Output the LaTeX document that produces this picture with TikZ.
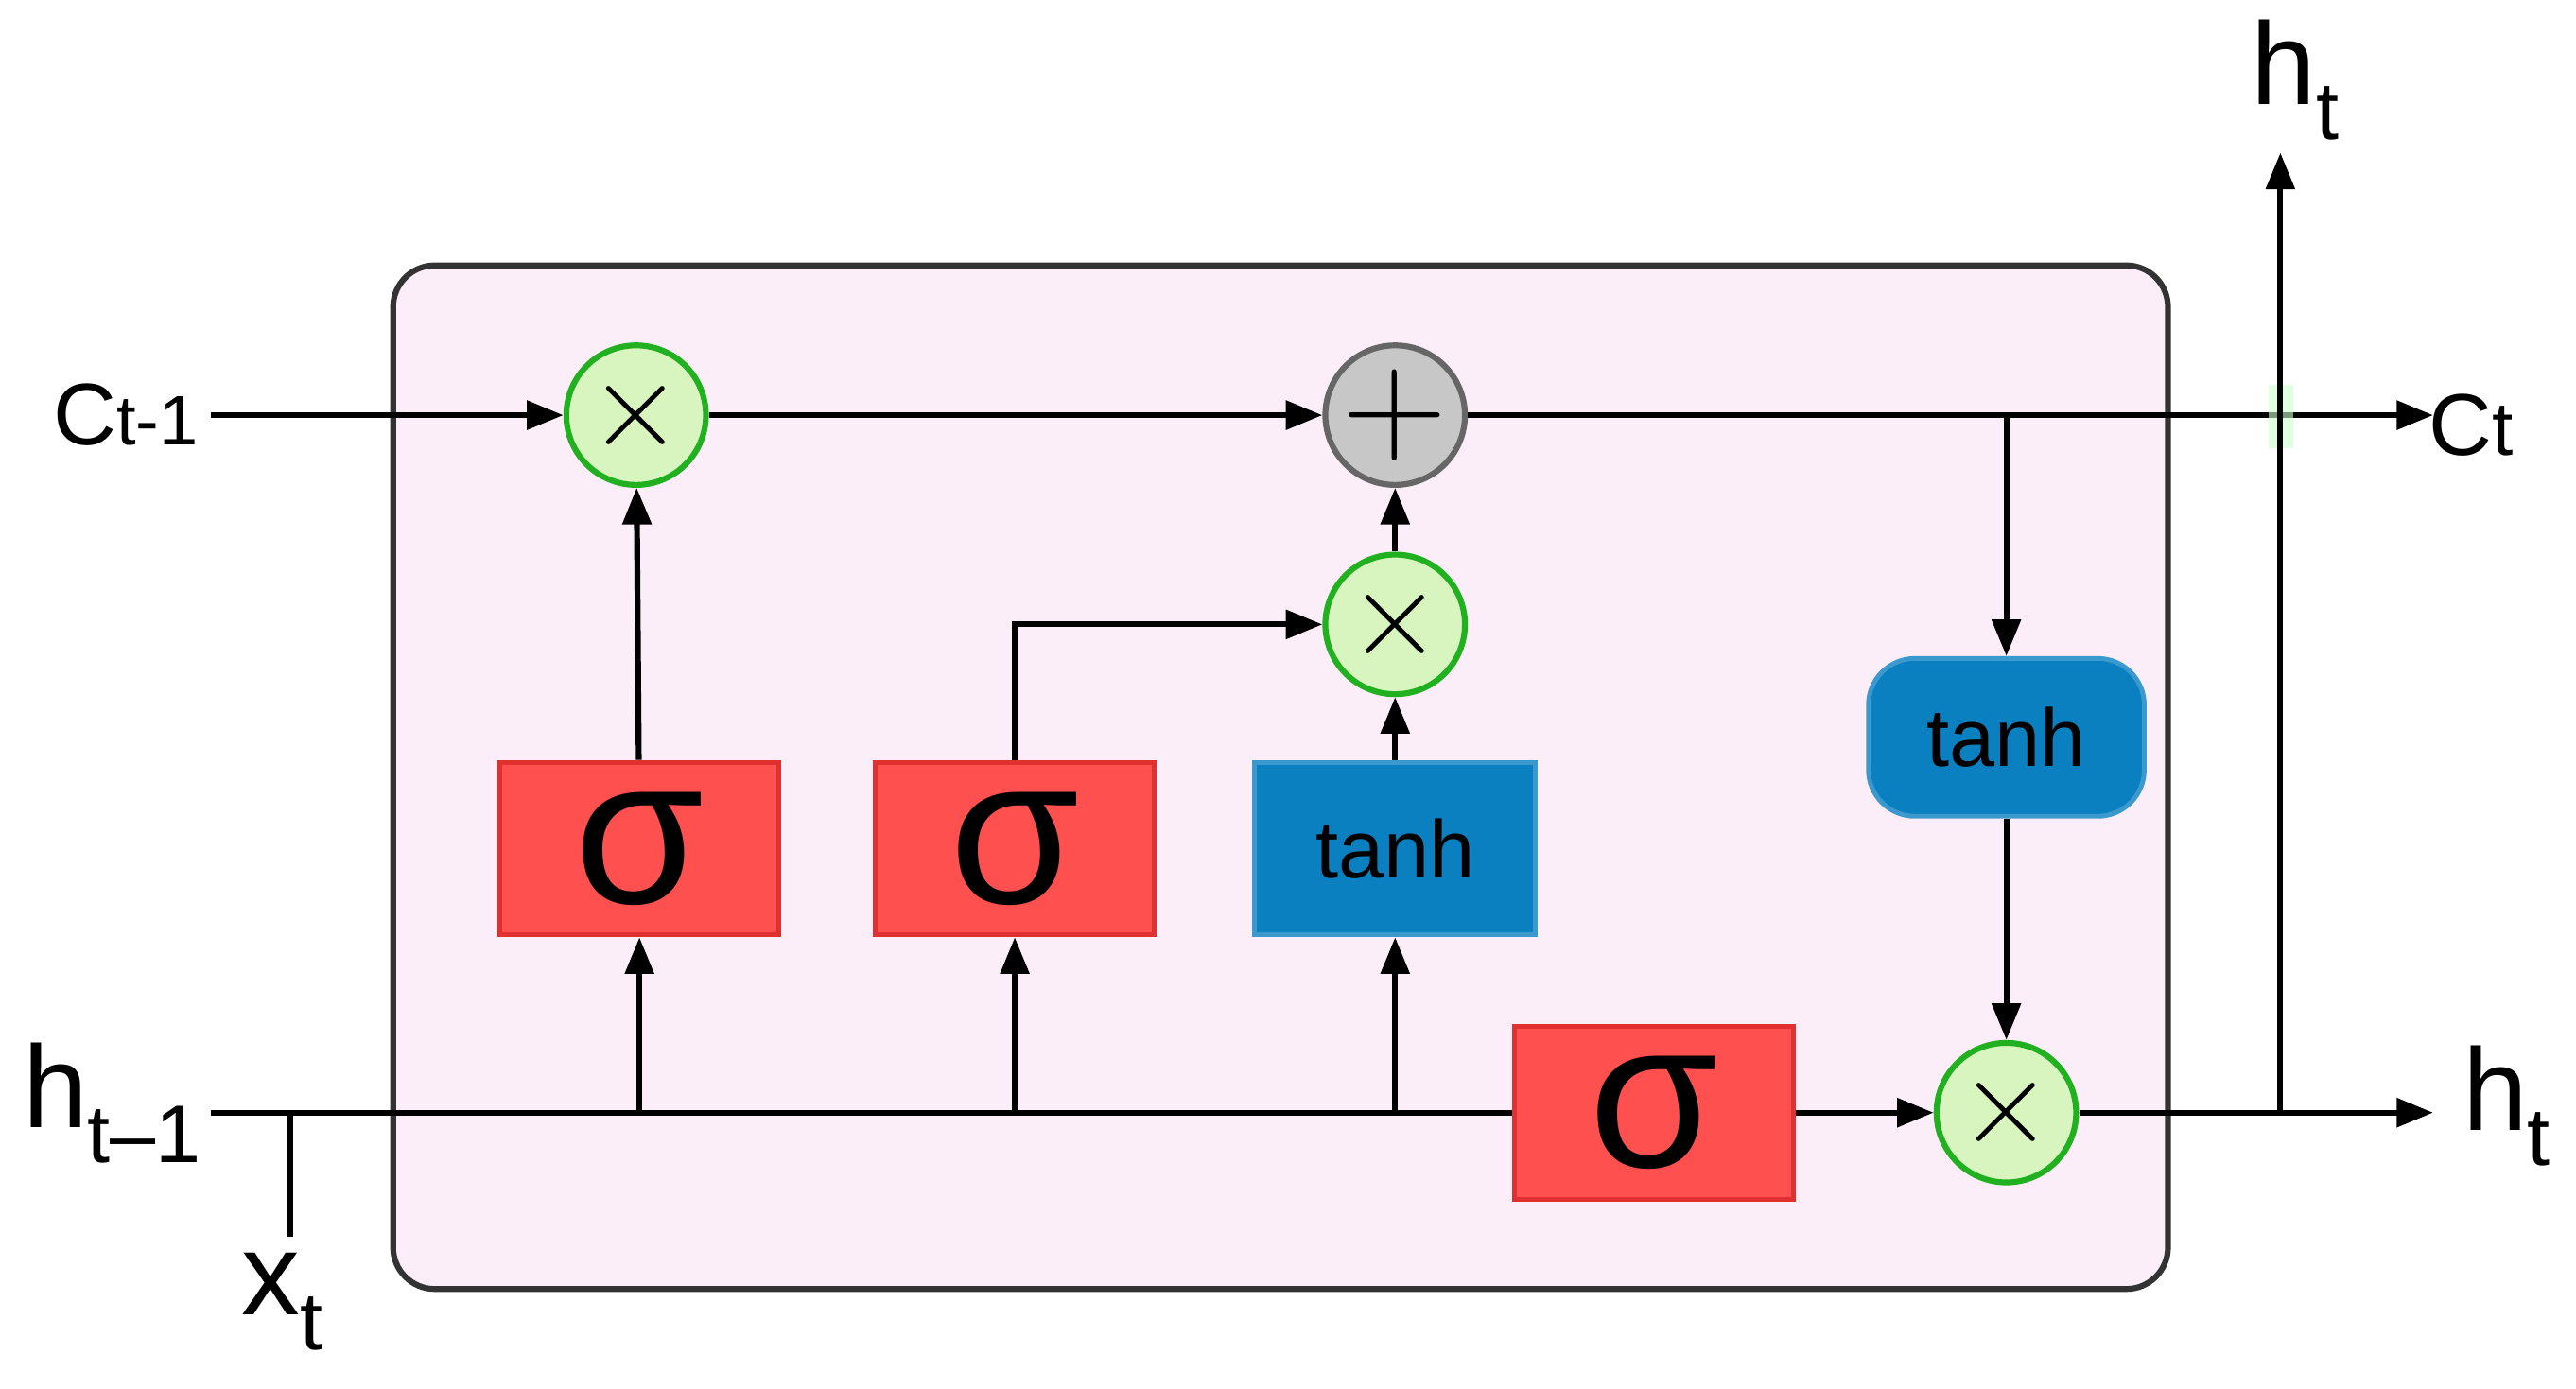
\documentclass[tikz,border=0pt]{standalone}
\usepackage{fontspec}
\setmainfont{Liberation Sans}
\usetikzlibrary{arrows.meta}
\definecolor{pinkbg}{HTML}{FBEEF8}
\definecolor{sigred}{HTML}{FF5050}
\definecolor{sigedge}{HTML}{E03030}
\definecolor{tblue}{HTML}{0A80C0}
\definecolor{cgreen}{HTML}{D8F5C0}
\definecolor{gedge}{HTML}{20B020}
\newcommand{\mysub}[1]{\raisebox{-0.3em}{\fontsize{14}{14}\selectfont #1}}
\begin{document}
\begin{tikzpicture}[x=0.01cm,y=-0.01cm,
  ln/.style={line width=1pt,black},
  ar/.style={ln,-{Triangle[length=0.22cm,width=0.17cm]}},
  mul/.style={circle,minimum size=0.84cm,inner sep=0,fill=cgreen,draw=gedge,line width=1pt,font=\fontsize{20}{20}\selectfont},
  sig/.style={rectangle,minimum width=1.68cm,minimum height=1.04cm,inner sep=0,fill=sigred,draw=sigedge,line width=0.8pt,font=\fontsize{36}{36}\selectfont},
  tb/.style={rectangle,minimum width=1.69cm,minimum height=1.04cm,inner sep=0,fill=tblue,draw=tblue!80!white,line width=0.8pt,font=\fontsize{14}{14}\selectfont},
  lab/.style={font=\fontsize{15}{15}\selectfont,inner sep=0},
  big/.style={font=\fontsize{20}{20}\selectfont,inner sep=0}]
\useasboundingbox (0,0) rectangle (1551,836);
\fill[white] (0,0) rectangle (1551,836);
\node[draw=black!80,line width=1pt,fill=pinkbg,rounded corners=0.25cm,minimum width=10.68cm,minimum height=6.16cm,inner sep=0] (cell) at (771,468) {};
% nodes
\node[mul] (m1) at (383,250) {$\times$};
\node[circle,minimum size=0.84cm,inner sep=0,fill=black!22,draw=black!60,line width=1pt,font=\fontsize{24}{24}\selectfont] (add) at (840,250) {$+$};
\node[mul] (m2) at (840,376) {$\times$};
\node[mul] (m3) at (1208,670) {$\times$};
\node[sig] (s1) at (385,511) {σ};
\node[sig] (s2) at (611,511) {σ};
\node[tb] (t1) at (840,511) {tanh};
\node[sig] (s3) at (996,670) {σ};
\node[tb,minimum width=1.66cm,minimum height=0.95cm,rounded corners=0.28cm] (t2) at (1208,444) {tanh};
% labels
\node[lab,anchor=east] (cin) at (120,250) {C\fontsize{12}{12}\selectfont t-1};
\node[lab,anchor=west] (cout) at (1462,256) {C\fontsize{13}{13}\selectfont t};
\node[big,anchor=east] (hin) at (122,664) {h\mysub{t–1}};
\node[big,anchor=west] (hout) at (1482,666) {h\mysub{t}};
\node[big] (htop) at (1382,48) {h\mysub{t}};
\node[big] (xt) at (170,784) {x\mysub{t}};
\coordinate (cs) at (127,250);
\coordinate (ce) at (1465,250);
\coordinate (hs) at (127,670);
\coordinate (he) at (1465,670);
\coordinate (xb) at (175,745);
\coordinate (xj) at (175,670);
\coordinate (ht1) at (1373,670);
\coordinate (ht2) at (1373,92);
\coordinate (b1) at (385,670);
\coordinate (b2) at (611,670);
\coordinate (b3) at (840,670);
\coordinate (cj) at (1208,250);
% connectors
\draw[ar] (cs) -- (m1);
\draw[ar] (m1) -- (add);
\draw[ar] (add) -- (ce);
\draw[ar] (m2) -- (add);
\draw[ar] (s1) -- (m1);
\draw[ar] (s2.north) |- (m2.west);
\draw[ar] (t1) -- (m2);
\draw[ln] (hs) -- (s3.west);
\draw[ar] (b1) -- (s1.south);
\draw[ar] (b2) -- (s2.south);
\draw[ar] (b3) -- (t1.south);
\draw[ar] (s3) -- (m3);
\draw[ar] (m3) -- (he);
\draw[ln] (xj) -- (xb);
\draw[ar] (cj) -- (t2.north);
\draw[ar] (t2) -- (m3);
\fill[green!20!white,opacity=0.6] (1366,232) rectangle (1381,270);
\draw[ar] (ht1) -- (ht2);
\end{tikzpicture}
\end{document}
